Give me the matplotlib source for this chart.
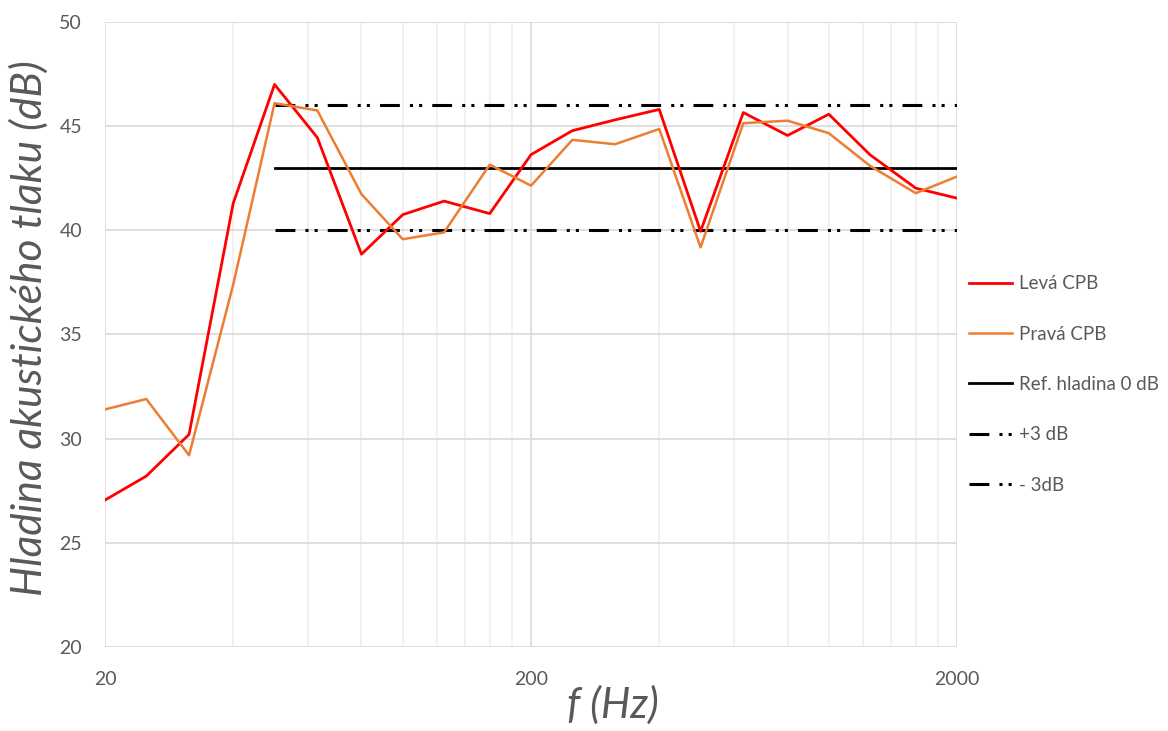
import matplotlib.pyplot as plt
from matplotlib.ticker import FixedLocator, NullFormatter

freqs = [20, 25, 31.5, 40, 50, 63, 80, 100, 125, 160, 200,
         250, 315, 400, 500, 630, 800, 1000, 1250, 1600, 2000]
leva = [27.05, 28.2, 30.2, 41.3, 47.0, 44.45, 38.85, 40.75, 41.4, 40.8, 43.63,
        44.78, 45.3, 45.8, 39.95, 45.65, 44.55, 45.57, 43.62, 42.02, 41.54]
prava = [31.4, 31.9, 29.2, 37.4, 46.1, 45.75, 41.73, 39.57, 39.9, 43.15, 42.14,
         44.34, 44.13, 44.86, 39.18, 45.14, 45.26, 44.66, 43.09, 41.78, 42.58]

ref_x = [50, 2000]
ref_level = 43
plus3 = 46
minus3 = 40

labels = ['Levá CPB', 'Pravá CPB', 'Ref. hladina 0 dB', '+3 dB', '- 3dB']

plt.rcParams['font.family'] = ['Lato', 'DejaVu Sans']
gray = '#595959'

fig = plt.figure(figsize=(11.68, 7.31), dpi=100)
ax = fig.add_axes([0.0899, 0.115, 0.7295, 0.855])

ax.set_xscale('log')
ax.set_xlim(20, 2000)
ax.set_ylim(20, 50)

# Excel-like grid
ax.xaxis.set_major_locator(FixedLocator([20, 200, 2000]))
minor = [20 * k for k in range(2, 10)] + [200 * k for k in range(2, 10)]
ax.xaxis.set_minor_locator(FixedLocator(minor))
ax.xaxis.set_minor_formatter(NullFormatter())
ax.set_xticklabels(['20', '200', '2000'])
ax.set_yticks(range(20, 51, 5))
ax.grid(which='major', axis='both', color='#d9d9d9', lw=1.2, zorder=0)
ax.grid(which='minor', axis='x', color='#efefef', lw=1.2, zorder=0)
for s in ax.spines.values():
    s.set_visible(False)
ax.tick_params(which='both', length=0, colors=gray, labelsize=14)
ax.tick_params(axis='x', pad=17)
ax.tick_params(axis='y', pad=16.5)

dd = (0, (6.5, 3.3, 1, 2, 1, 3.3))
ax.plot(freqs, leva, color='#ff0000', lw=2.0, label=labels[0], zorder=3)
ax.plot(freqs, prava, color='#ed7d31', lw=1.8, label=labels[1], zorder=3)
ax.plot(ref_x, [ref_level] * 2, color='black', lw=2.0, label=labels[2], zorder=2)
ax.plot(ref_x, [plus3] * 2, color='black', lw=2.2, ls=dd, label=labels[3], zorder=2)
ax.plot(ref_x, [minus3] * 2, color='black', lw=2.2, ls=dd, label=labels[4], zorder=2)

ax.set_xlabel('f (Hz)', fontsize=30, style='italic', color=gray)
ax.xaxis.set_label_coords(0.596, -0.062)
ax.set_ylabel('Hladina akustického tlaku (dB)', fontsize=30.5, style='italic',
              color=gray)
ax.yaxis.set_label_coords(-0.066, 0.51)

leg = ax.legend(loc='upper left', bbox_to_anchor=(0.815, 0.6466),
                bbox_transform=fig.transFigure, frameon=False, fontsize=13.5,
                handlelength=2.3, handletextpad=0.4, labelspacing=1.78)
for t in leg.get_texts():
    t.set_color(gray)

fig.savefig('out.png', dpi=100)
